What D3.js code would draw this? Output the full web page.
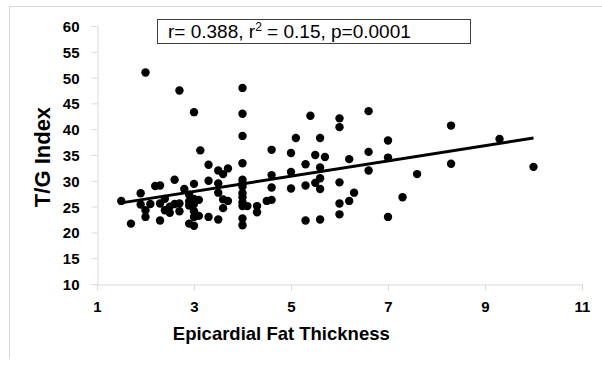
<!DOCTYPE html>
<html>
<head>
<meta charset="utf-8">
<script src="https://cdn.jsdelivr.net/npm/d3@7"></script>
<style>
  body { margin: 0; background: #fff; }
  svg { display: block; font-family: "Liberation Sans", Arial, sans-serif; }
  .axis path, .axis line { stroke: #d9d9d9; }
  .axis text { font-weight: bold; font-size: 15px; fill: #000; }
</style>
</head>
<body>
<div id="chart"></div>
<script>
// epicardial fat thickness (x) and T/G index (y)
const fatThickness = [
  1.5, 1.7, 1.9, 1.9, 2.0, 2.0, 2.0, 2.1, 2.2, 2.3, 2.3, 2.3, 2.4, 2.4, 2.5, 2.5,
  2.6, 2.6, 2.7, 2.7, 2.7, 2.8, 2.9, 2.9, 2.9, 2.9, 3.0, 3.0, 3.0, 3.0, 3.0, 3.0,
  3.0, 3.1, 3.1, 3.13, 3.3, 3.3, 3.3, 3.5, 3.5, 3.5, 3.5, 3.6, 3.6, 3.6, 3.7, 3.7,
  4.0, 4.0, 4.0, 4.0, 4.0, 4.0, 4.0, 4.0, 4.0, 4.0, 4.0, 4.0, 4.0, 4.1, 4.3, 4.3,
  4.5, 4.6, 4.6, 4.6, 4.6, 5.0, 5.0, 5.0, 5.1, 5.3, 5.3, 5.3, 5.4, 5.5, 5.5, 5.6,
  5.6, 5.6, 5.6, 5.6, 5.7, 6.0, 6.0, 6.0, 6.0, 6.0, 6.2, 6.2, 6.3, 6.6, 6.6, 6.6,
  7.0, 7.0, 7.0, 7.3, 7.6, 8.3, 8.3, 9.3, 10.0
];
const tgIndex = [
  26.1, 21.7, 27.6, 25.4, 51.0, 24.3, 23.0, 25.5, 29.0, 29.1, 25.6, 22.3, 26.5, 24.3, 23.8, 25.0,
  30.2, 25.5, 47.5, 25.6, 24.1, 28.4, 27.3, 26.0, 25.2, 21.7, 43.3, 29.4, 26.5, 25.5, 24.1, 23.0,
  21.3, 26.3, 23.2, 35.9, 33.1, 30.0, 23.0, 32.0, 29.5, 27.7, 22.5, 31.3, 26.4, 24.7, 32.4, 26.1,
  48.0, 43.0, 38.7, 33.4, 30.2, 29.5, 28.9, 27.6, 26.8, 25.8, 25.1, 22.7, 21.4, 25.1, 25.1, 23.9,
  26.1, 36.0, 31.1, 28.7, 26.3, 35.4, 31.7, 28.5, 38.3, 33.2, 29.1, 22.3, 42.6, 35.0, 29.6, 38.3,
  32.6, 30.5, 28.4, 22.5, 34.6, 42.1, 40.4, 29.7, 25.6, 23.5, 34.2, 26.1, 27.7, 43.5, 35.6, 32.0,
  37.8, 34.5, 23.0, 26.8, 31.3, 40.7, 33.3, 38.1, 32.7
];

const xTicks = [1, 3, 5, 7, 9, 11];
const yTicks = [10, 15, 20, 25, 30, 35, 40, 45, 50, 55, 60];

// trend line as drawn in the figure
const trendRange = [1.5, 10];
const trendIntercept = 23.5;
const trendSlope = 1.48;

const width = 602, height = 371;
const plotLeft = 97, plotRight = 582, plotTop = 26, plotBottom = 284;

const svg = d3.select('#chart').append('svg')
  .attr('width', width)
  .attr('height', height);

// outer frame (only top and left edges show)
svg.append('path')
  .attr('d', `M9.5,358 V6.5 H602`)
  .attr('fill', 'none')
  .attr('stroke', '#d9d9d9');

const x = d3.scaleLinear().domain([1, 11]).range([plotLeft, plotRight]);
const y = d3.scaleLinear().domain([10, 60]).range([plotBottom, plotTop]);

svg.append('g')
  .attr('class', 'axis')
  .attr('transform', `translate(0,${plotBottom + 0.5})`)
  .call(d3.axisBottom(x).tickValues(xTicks).tickSize(6).tickSizeOuter(0).tickPadding(11));

const yAxis = svg.append('g')
  .attr('class', 'axis')
  .attr('transform', `translate(${plotLeft + 0.5},0)`)
  .call(d3.axisLeft(y).tickValues(yTicks).tickSize(6).tickSizeOuter(0).tickPadding(12));

yAxis.selectAll('text').attr('dy', '0.36em');

// axis titles
svg.append('text')
  .attr('x', x(4.8))
  .attr('y', 340)
  .attr('text-anchor', 'middle')
  .style('font-weight', 'bold')
  .style('font-size', '18.5px')
  .text('Epicardial Fat Thickness');

svg.append('text')
  .attr('transform', `translate(50,157) rotate(-90)`)
  .attr('text-anchor', 'middle')
  .style('font-weight', 'bold')
  .style('font-size', '22px')
  .text('T/G Index');

// points
svg.append('g')
  .selectAll('circle')
  .data(fatThickness.map((d, i) => [d, tgIndex[i]]))
  .join('circle')
  .attr('cx', d => x(d[0]))
  .attr('cy', d => y(d[1]))
  .attr('r', 4.2)
  .attr('fill', '#000');

// regression line
const line = d3.line()
  .x(d => x(d))
  .y(d => y(trendIntercept + trendSlope * d));

svg.append('path')
  .datum(trendRange)
  .attr('d', line)
  .attr('fill', 'none')
  .attr('stroke', '#000')
  .attr('stroke-width', 3);

// stats box
svg.append('rect')
  .attr('x', 157.5)
  .attr('y', 19.5)
  .attr('width', 313)
  .attr('height', 24)
  .attr('fill', '#fff')
  .attr('stroke', '#404040');

const stat = svg.append('text')
  .attr('x', 168)
  .attr('y', 38)
  .style('font-size', '19px');
stat.append('tspan').text('r= 0.388, r');
stat.append('tspan').attr('dy', -7).style('font-size', '12px').text('2');
stat.append('tspan').attr('dy', 7).text(' = 0.15, p=0.0001');
</script>
</body>
</html>
